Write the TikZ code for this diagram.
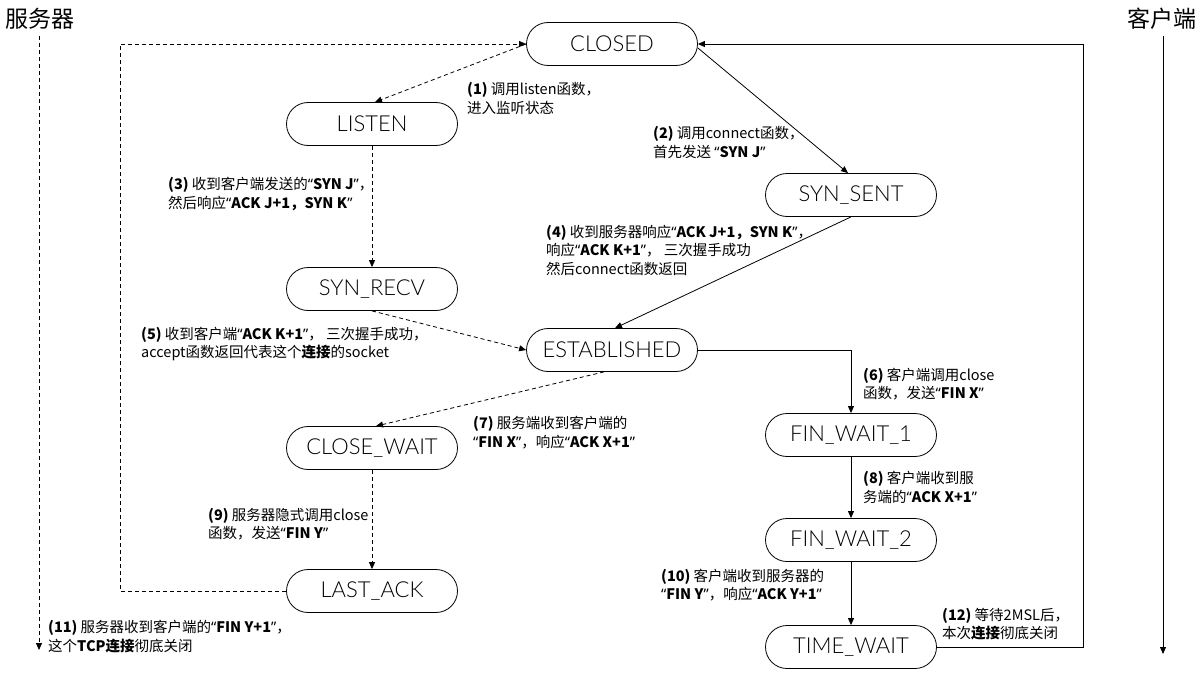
\documentclass[tikz,border=0pt]{standalone}
\usepackage{fontspec}
\setmainfont{Noto Sans CJK SC}
\newfontfamily\qf{Noto Sans}
\newfontfamily\nodef{Lato}[UprightFont=* Light]
\usetikzlibrary{arrows.meta,calc}
\newcommand{\QO}{{\qf “}}
\newcommand{\QC}{{\qf ”}}
\begin{document}
\begin{tikzpicture}[x=1pt,y=-1pt,
  state/.style={draw,line width=0.8pt,rounded corners=21.5pt,minimum width=171pt,minimum height=43pt,inner sep=0pt,font=\nodef\fontsize{22}{22}\selectfont},
  lbl/.style={anchor=west,align=left,inner sep=0pt,font=\fontsize{14.5}{18.5}\selectfont},
  solidarr/.style={draw,line width=0.8pt,-{Triangle[length=7pt,width=6pt]}},
  dasharr/.style={solidarr,dash pattern=on 4pt off 3pt},
  title/.style={font=\fontsize{23}{23}\selectfont,inner sep=0pt}]
\useasboundingbox (0,0) rectangle (1204,674);

% titles
\node[title] (srv) at (40,19) {服务器};
\node[title] (cli) at (1162,19) {客户端};

% states
\node[state] (closed) at (612,44) {CLOSED};
\node[state] (listen) at (372,124) {LISTEN};
\node[state] (synsent) at (851,195) {SYN\_SENT};
\node[state] (synrecv) at (372,289) {SYN\_RECV};
\node[state] (established) at (612,350) {ESTABLISHED};
\node[state] (closewait) at (372,448) {CLOSE\_WAIT};
\node[state] (finwait1) at (851,435) {FIN\_WAIT\_1};
\node[state] (finwait2) at (851,540) {FIN\_WAIT\_2};
\node[state] (lastack) at (372,591) {LAST\_ACK};
\node[state] (timewait) at (851,647) {TIME\_WAIT};

% timelines
\coordinate (s0) at (39,36); \coordinate (s1) at (39,650);
\draw[dasharr] (s0) -- (s1);
\coordinate (c0) at (1163,36); \coordinate (c1) at (1163,654);
\draw[solidarr] (c0) -- (c1);

% loops back to CLOSED
\coordinate (lx) at (120,0);
\coordinate (rx) at (1083,0);
\draw[dasharr] (lastack.west) -- (lastack.west -| lx) |- (closed.west);
\draw[solidarr] (timewait.east) -- (timewait.east -| rx) |- (closed.east);

% transitions
\draw[dasharr] (closed.west) -- ([xshift=3pt]listen.north);
\draw[solidarr] ([yshift=-4pt]closed.east) -- ([xshift=-3pt]synsent.north);
\draw[solidarr] (synsent.south) -- ([xshift=3pt]established.north);
\draw[dasharr] (listen.south) -- (synrecv.north);
\draw[dasharr] (synrecv.south) -- (established.west);
\draw[solidarr] (established.east) -| (finwait1.north);
\draw[dasharr] ([xshift=-8pt]established.south) -- ([xshift=4pt]closewait.north);
\draw[dasharr] (closewait.south) -- (lastack.north);
\draw[solidarr] (finwait1.south) -- (finwait2.north);
\draw[solidarr] (finwait2.south) -- (timewait.north);

% labels
\node[lbl] (l1) at (467,98.5) {\textbf{(1)} 调用listen函数，\\进入监听状态};
\node[lbl] (l2) at (653,142.5) {\textbf{(2)} 调用connect函数，\\首先发送 \QO\textbf{SYN J}\QC};
\node[lbl] (l3) at (168,194) {\textbf{(3)} 收到客户端发送的\QO\textbf{SYN J}\QC，\\然后响应\QO\textbf{ACK J+1，SYN K}\QC};
\node[lbl] (l4) at (546,250) {\textbf{(4)} 收到服务器响应\QO\textbf{ACK J+1，SYN K}\QC，\\响应\QO\textbf{ACK K+1}\QC， 三次握手成功\\然后connect函数返回};
\node[lbl] (l5) at (141,344) {\textbf{(5)} 收到客户端\QO\textbf{ACK K+1}\QC， 三次握手成功，\\accept函数返回代表这个\textbf{连接}的socket};
\node[lbl] (l6) at (863,384) {\textbf{(6)} 客户端调用close\\函数，发送\QO\textbf{FIN X}\QC};
\node[lbl] (l7) at (473,432.5) {\textbf{(7)} 服务端收到客户端的\\\QO\textbf{FIN X}\QC，响应\QO\textbf{ACK X+1}\QC};
\node[lbl] (l8) at (863,487.5) {\textbf{(8)} 客户端收到服\\务端的\QO\textbf{ACK X+1}\QC};
\node[lbl] (l9) at (208,524) {\textbf{(9)} 服务器隐式调用close\\函数，发送\QO\textbf{FIN Y}\QC};
\node[lbl] (l10) at (661,585) {\textbf{(10)} 客户端收到服务器的\\\QO\textbf{FIN Y}\QC，响应\QO\textbf{ACK Y+1}\QC};
\node[lbl] (l11) at (48,636.5) {\textbf{(11)} 服务器收到客户端的\QO\textbf{FIN Y+1}\QC，\\这个\textbf{TCP连接}彻底关闭};
\node[lbl] (l12) at (942,624) {\textbf{(12)} 等待2MSL后，\\本次\textbf{连接}彻底关闭};
\end{tikzpicture}
\end{document}
